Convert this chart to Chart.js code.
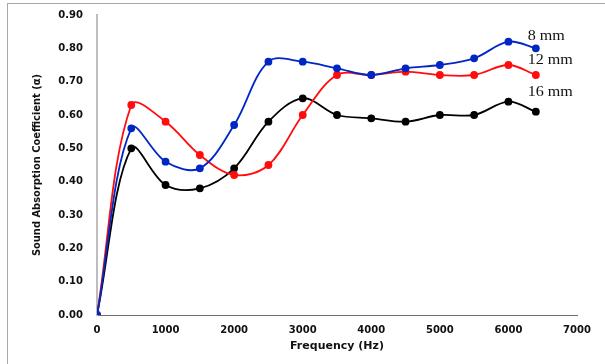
<!DOCTYPE html>
<html>
<head>
<meta charset="utf-8">
<script src="https://cdn.jsdelivr.net/npm/chart.js@4.4.1/dist/chart.umd.min.js"></script>
<style>
  html, body { margin: 0; padding: 0; background: #fff; }
  #wrap { position: relative; width: 605px; height: 364px; overflow: hidden; }
  #frame { position: absolute; left: 7px; top: 3px; right: -2px; bottom: -2px;
           border-left: 1px solid #a8a8a8; border-top: 1px solid #a8a8a8; }
  canvas { position: absolute; left: 0; top: 0; }
</style>
</head>
<body>
<div id="wrap">
  <div id="frame"></div>
  <canvas id="c" width="605" height="364"></canvas>
</div>
<script>
// Frequency points (Hz)
const frequency = [0, 500, 1000, 1500, 2000, 2500, 3000, 3500, 4000, 4500, 5000, 5500, 6000, 6400];

// absorption coefficient per sample thickness
const mm8  = [0, 0.56, 0.46, 0.44, 0.57, 0.76, 0.76, 0.74, 0.72, 0.74, 0.75, 0.77, 0.82, 0.80];
const mm12 = [0, 0.63, 0.58, 0.48, 0.42, 0.45, 0.60, 0.72, 0.72, 0.73, 0.72, 0.72, 0.75, 0.72];
const mm16 = [0, 0.50, 0.39, 0.38, 0.44, 0.58, 0.65, 0.60, 0.59, 0.58, 0.60, 0.60, 0.64, 0.61];

const seriesNames = ['8 mm', '12 mm', '16 mm'];
const seriesColors = ['#0026c4', '#ff0d0d', '#000000'];
// where the series names sit, in data units (frequency, alpha)
const nameX = [6280, 6280, 6280];
const nameY = [0.837, 0.765, 0.668];

const toPoints = vals => vals.map((v, i) => ({ x: frequency[i], y: v }));

const seriesLabels = {
  id: 'seriesLabels',
  afterDatasetsDraw(chart) {
    const { ctx, scales: { x, y } } = chart;
    ctx.save();
    ctx.font = '14px "Liberation Serif", "DejaVu Serif", serif';
    ctx.fillStyle = '#111';
    ctx.textBaseline = 'middle';
    ctx.textAlign = 'left';
    seriesNames.forEach((name, i) => {
      const px = x.getPixelForValue(nameX[i]);
      const py = y.getPixelForValue(nameY[i]);
      // the source image is stretched sideways, so widen the text a bit
      ctx.save();
      ctx.translate(px, py);
      ctx.scale(1.15, 1);
      ctx.fillText(name, 0, 0);
      ctx.restore();
    });
    ctx.restore();
  }
};

const tickFont = { family: '"DejaVu Sans", Verdana, sans-serif', size: 10, weight: 'bold' };

new Chart(document.getElementById('c'), {
  type: 'line',
  data: {
    datasets: [mm8, mm12, mm16].map((vals, i) => ({
      label: seriesNames[i],
      data: toPoints(vals),
      borderColor: seriesColors[i],
      backgroundColor: seriesColors[i],
      borderWidth: 1.8,
      pointRadius: 3,
      pointHoverRadius: 3,
      tension: 0.35,
    })),
  },
  options: {
    responsive: false,
    animation: false,
    layout: { padding: { left: 0, top: 15, right: 28, bottom: 11 } },
    plugins: { legend: { display: false }, tooltip: { enabled: false } },
    scales: {
      x: {
        type: 'linear',
        min: 0, max: 7000,
        grid: { display: false, drawTicks: false },
        border: { display: true, color: '#6e6e6e', width: 1 },
        ticks: {
          stepSize: 1000, color: '#111', font: tickFont, padding: 9, maxRotation: 0,
          callback: v => String(v),
        },
        title: {
          display: true, text: 'Frequency (Hz)', color: '#111',
          font: { family: '"DejaVu Sans", Verdana, sans-serif', size: 11, weight: 'bold' },
          padding: { top: 2, bottom: 0 },
        },
        afterFit: s => { s.height = 38; },
      },
      y: {
        min: 0, max: 0.9,
        grid: { display: false, drawTicks: false },
        border: { display: true, color: '#bdbdbd', width: 2 },
        ticks: {
          stepSize: 0.1, color: '#111', font: tickFont, padding: 14,
          callback: v => v.toFixed(2),
        },
        title: {
          display: true, text: 'Sound Absorption Coefficient (α)', color: '#111',
          font: { family: '"Liberation Sans Narrow", "DejaVu Sans Condensed", sans-serif', size: 11, weight: 'bold' },
          padding: { top: 31, bottom: 8 },
        },
        afterFit: s => { s.width = 97; s.paddingTop = 0; s.paddingBottom = 0; },
      },
    },
  },
  plugins: [seriesLabels],
});
</script>
</body>
</html>
